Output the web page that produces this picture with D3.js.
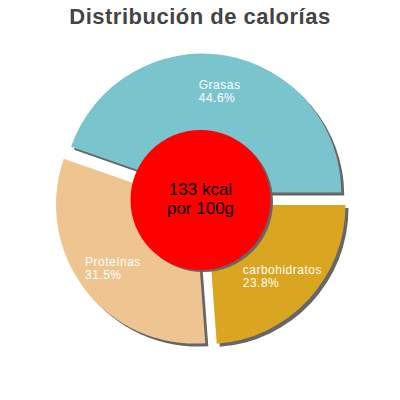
<!DOCTYPE html>
<html>
<head>
<meta charset="utf-8">
<script src="https://cdn.jsdelivr.net/npm/d3@7"></script>
<style>
  body { margin: 0; background: white; }
  text { font-family: "Liberation Sans", Arial, sans-serif; }
</style>
</head>
<body>
<svg id="chart" width="400" height="400"></svg>
<script>
// data
var categories = ["Grasas", "Proteínas", "carbohidratos"];
var percents = [44.6, 31.5, 23.8];
var colors = ["#7AC5CD", "#EEC591", "#DAA520"];
var centerLines = ["133 kcal", "por 100g"];
var title = "Distribución de calorías";

var width = 400, height = 400;
var cx = 201, cy = 200;
var radius = 139, explode = 7.5, labelRadius = 111;
var shadow = 3;

var svg = d3.select("#chart");

var data = categories.map(function(c, i) {
  return { name: c, value: percents[i], color: colors[i] };
});

// counterclockwise from 3 o'clock
var pie = d3.pie()
    .sort(null)
    .value(function(d) { return d.value; })
    .startAngle(Math.PI / 2)
    .endAngle(Math.PI / 2 - 2 * Math.PI);

var arc = d3.arc().innerRadius(0).outerRadius(radius);

var arcs = pie(data);

function mid(d) { return (d.startAngle + d.endAngle) / 2; }

//offset each slice out along its middle angle
function sliceShift(d) {
  var a = mid(d);
  return [cx + Math.sin(a) * explode, cy - Math.cos(a) * explode];
}

function drawTitle() {
  svg.append("text")
      .attr("x", width / 2)
      .attr("y", 24)
      .attr("text-anchor", "middle")
      .attr("fill", "#444")
      .style("font-size", "22px")
      .style("font-weight", "bold")
      .style("letter-spacing", "0.5px")
      .text(title);
}

function drawSlices() {
  // shadows first so every slice sits on top
  svg.append("g").selectAll(".shadow")
      .data(arcs)
      .enter().append("path")
      .attr("class", "shadow")
      .attr("fill", "#666")
      .attr("transform", function(d) {
        var p = sliceShift(d);
        return "translate(" + (p[0] + shadow) + "," + (p[1] + shadow) + ")";
      })
      .attr("d", arc);

  svg.append("g").selectAll(".slice")
      .data(arcs)
      .enter().append("path")
      .attr("class", "slice")
      .attr("fill", function(d) { return d.data.color; })
      .attr("transform", function(d) {
        var p = sliceShift(d);
        return "translate(" + p[0] + "," + p[1] + ")";
      })
      .attr("d", arc);
}

//labels: two left aligned lines, the block centred on the label point
function drawLabels() {
  var g = svg.append("g");
  arcs.forEach(function(d) {
    var a = mid(d);
    var lx = cx + Math.sin(a) * labelRadius;
    var ly = cy - Math.cos(a) * labelRadius;
    var lines = [d.data.name, d.data.value.toFixed(1) + "%"];
    var texts = lines.map(function(s, i) {
      return g.append("text")
          .attr("y", ly - 1.5 + i * 12.5)
          .attr("fill", "white")
          .style("font-size", "12px")
          .style("letter-spacing", "0.5px")
          .text(s);
    });
    var w = d3.max(texts, function(t) { return t.node().getComputedTextLength(); });
    texts.forEach(function(t) { t.attr("x", lx - w / 2); });
  });
}

function drawCenter() {
  var r = 70;
  svg.append("circle")
      .attr("cx", cx + 2)
      .attr("cy", cy + 2)
      .attr("r", r)
      .attr("fill", "#666");
  svg.append("circle")
      .attr("cx", cx - 0.5)
      .attr("cy", cy)
      .attr("r", r)
      .attr("fill", "#FF0000");

  svg.append("g").selectAll("text")
      .data(centerLines)
      .enter().append("text")
      .attr("x", cx - 0.5)
      .attr("y", function(d, i) { return 195 + i * 19; })
      .attr("text-anchor", "middle")
      .attr("fill", "black")
      .style("font-size", "17px")
      .text(function(d) { return d; });
}

drawTitle();
drawSlices();
drawLabels();
drawCenter();
</script>
</body>
</html>
